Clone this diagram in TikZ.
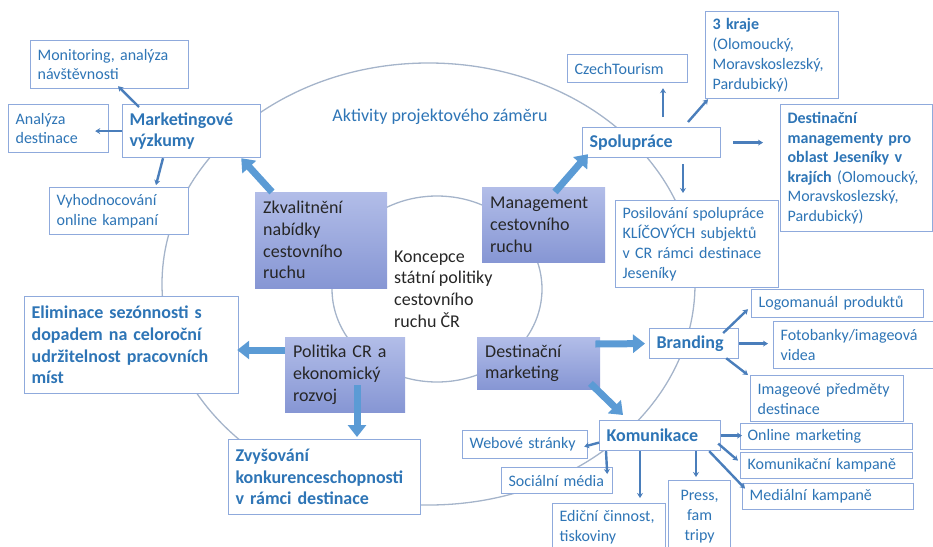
\documentclass[tikz,border=0pt]{standalone}
\usepackage{fontspec}
\setmainfont{Carlito}
\usetikzlibrary{arrows.meta}
\definecolor{txtblue}{RGB}{46,117,182}
\definecolor{boxline}{RGB}{143,170,220}
\definecolor{connline}{RGB}{74,126,187}
\definecolor{bigarrow}{RGB}{91,155,213}
\definecolor{ringline}{RGB}{165,180,202}
\definecolor{coretop}{RGB}{178,189,232}
\definecolor{corebot}{RGB}{134,150,212}
\definecolor{coretext}{RGB}{38,38,38}

\begin{document}
\begin{tikzpicture}[x=1pt,y=-1pt]
            \tikzstyle{wbox}=[draw=boxline, line width=1.2pt, fill=white, anchor=north west, inner xsep=7pt, inner ysep=0pt, align=left, text=txtblue, font=\fontsize{16}{19.8}\selectfont]
            \tikzstyle{hbox}=[wbox, font=\fontsize{18}{21.7}\selectfont\bfseries]
            \tikzstyle{core}=[anchor=north west, top color=coretop, bottom color=corebot, inner xsep=8pt, inner ysep=0pt, align=left, text=coretext, font=\fontsize{18}{21.7}\selectfont]
            \tikzstyle{conn}=[connline, line width=2.4pt, -{Stealth[length=5pt,width=6pt]}]
            \tikzstyle{bigconn}=[bigarrow, line width=7pt, -{Triangle[length=12pt,width=18pt]}]
            \tikzstyle{ring}=[ringline, line width=1.3pt]
            \useasboundingbox (0,0) rectangle (933,546);
            \clip (0,0) rectangle (933,546);
            \draw[ring] (428.5,284) ellipse [x radius=266.5pt, y radius=221pt];
            \draw[ring] (437,289) ellipse [x radius=105pt, y radius=93pt];
            \node[text=txtblue, font=\fontsize{18}{21.7}\selectfont] (akt) at (440,117) {Aktivity projektového záměru};
            \node[anchor=west, inner sep=0pt, align=left, text=coretext, font=\fontsize{18}{21.7}\selectfont] (konc) at (394,289) {Koncepce\\státní politiky\\cestovního\\ruchu ČR};
            \node[core, text width=116pt, minimum height=96pt] (zkv) at (255,192) {Zkvalitnění\\nabídky\\cestovního\\ruchu};
            \node[core, text width=107pt, minimum height=75pt] (mgmt) at (482,187) {Management\\cestovního\\ruchu};
            \node[core, text width=104pt, minimum height=75pt] (pol) at (285,337) {Politika CR a\\ekonomický\\rozvoj};
            \node[core, text width=107pt, minimum height=52pt] (dmk) at (477,337) {Destinační\\marketing};
            \node[wbox, text width=144pt, minimum height=48pt] (mon) at (30,40) {Monitoring, analýza\\návštěvnosti};
            \node[wbox, text width=86pt, minimum height=48pt] (anal) at (8,104) {Analýza\\destinace};
            \node[hbox, text width=124pt, minimum height=53pt] (mkt) at (122,104) {Marketingové\\výzkumy};
            \node[wbox, text width=125pt, minimum height=47pt] (vyh) at (49,187) {Vyhodnocování\\online kampaní};
            \node[wbox, text width=106pt, minimum height=28pt] (czt) at (567,54) {CzechTourism};
            \node[wbox, text width=119pt, minimum height=87pt] (kraje) at (705,11) {\textbf{3 kraje}\\(Olomoucký,\\Moravskoslezský,\\Pardubický)};
            \node[hbox, text width=124pt, minimum height=30pt] (spol) at (582,127) {Spolupráce};
            \node[wbox, text width=138pt, minimum height=127pt, font=\fontsize{16}{19.5}\selectfont] (dm) at (780,104) {\textbf{Destinační}\\\textbf{managementy pro}\\\textbf{oblast Jeseníky v}\\\textbf{krajích} (Olomoucký,\\Moravskoslezský,\\Pardubický)};
            \node[wbox, text width=149pt, minimum height=87pt] (pos) at (615,200) {Posilování spolupráce\\KLÍČOVÝCH subjektů\\v CR rámci destinace\\Jeseníky};
            \node[hbox, text width=200pt, minimum height=97pt] (elim) at (24,296) {Eliminace sezónnosti s\\dopadem na celoroční\\udržitelnost pracovních\\míst};
            \node[hbox, text width=178pt, minimum height=75pt] (zvys) at (228,439) {Zvyšování\\konkurenceschopnosti\\v rámci destinace};
            \node[hbox, text width=75pt, minimum height=30pt] (brand) at (649,328) {Branding};
            \node[wbox, text width=158pt, minimum height=28pt] (logo) at (751,289) {Logomanuál produktů};
            \node[wbox, text width=148pt, minimum height=47pt] (foto) at (773,321) {Fotobanky/imageová\\videa};
            \node[wbox, text width=139pt, minimum height=46pt] (img) at (750,375) {Imageové předměty\\destinace};
            \node[hbox, text width=107pt, minimum height=30pt] (kom) at (599,420) {Komunikace};
            \node[wbox, text width=111pt, minimum height=28pt] (web) at (462,430) {Webové stránky};
            \node[wbox, text width=97pt, minimum height=26pt] (soc) at (501,467) {Sociální média};
            \node[wbox, text width=99pt, minimum height=48pt] (edi) at (552,503) {Ediční činnost,\\tiskoviny};
            \node[wbox, text width=48pt, minimum height=72pt, align=center] (press) at (668,480) {Press,\\fam\\tripy};
            \node[wbox, text width=158pt, minimum height=26pt] (onl) at (740,423) {Online marketing};
            \node[wbox, text width=158pt, minimum height=26pt] (kkam) at (740,452) {Komunikační kampaně};
            \node[wbox, text width=157pt, minimum height=26pt] (mkam) at (742,483) {Mediální kampaně};
            \draw[conn] ([xshift=17pt,yshift=-3pt]mkt.north west) -- ([xshift=88pt,yshift=3pt]mon.south west);
            \draw[conn] (mkt.west) -- ([xshift=-14pt]mkt.west -| anal.east);
            \draw[conn] ([xshift=41pt]mkt.south west) -- ([xshift=107pt,yshift=2pt]vyh.north west);
            \draw[conn] ([xshift=81pt,yshift=10pt]spol.north west) -- ([xshift=96pt,yshift=-5pt]czt.south west);
            \draw[conn] ([xshift=106pt,yshift=5pt]spol.north west) -- ([xshift=3pt]kraje.south west);
            \draw[conn, shorten <=12pt, shorten >=17pt] (spol.east) -- (spol.east -| dm.west);
            \draw[conn] ([xshift=101pt,yshift=-6pt]spol.south west) -- ([xshift=68pt,yshift=7pt]pos.north west);
            \draw[conn] ([xshift=-16pt,yshift=-5pt]brand.north east) -- ([xshift=-3pt,yshift=9pt]logo.south west);
            \draw[conn, shorten >=5pt] (brand.east) -- (brand.east -| foto.west);
            \draw[conn] ([xshift=-13pt,yshift=1pt]brand.south east) -- ([xshift=-2pt]img.north west);
            \draw[conn] ([yshift=-7pt]kom.west) -- ([xshift=-4pt,yshift=-2pt]web.east);
            \draw[conn] ([xshift=7pt]kom.south west) -- ([xshift=-6pt,yshift=-7pt]soc.north east);
            \draw[conn] ([xshift=41pt]kom.south west) -- ([xshift=88pt,yshift=5pt]edi.north west);
            \draw[conn] ([xshift=97pt]kom.south west) -- ([xshift=28pt,yshift=3pt]press.north west);
            \draw[conn] (kom.east) -- ([xshift=2pt]kom.east -| onl.west);
            \draw[conn] ([xshift=-3pt,yshift=-8pt]kom.east) -- ([xshift=-2pt,yshift=5pt]kkam.west);
            \draw[conn] ([xshift=-12pt]kom.south east) -- ([xshift=3pt,yshift=8pt]mkam.west);
            \draw[bigconn] ([xshift=17pt]zkv.north west) -- ([xshift=-20pt]mkt.south east);
            \draw[bigconn] ([xshift=73pt,yshift=-5pt]mgmt.north west) -- ([xshift=6pt,yshift=4pt]spol.south west);
            \draw[bigconn] ([yshift=-13pt]pol.north west) -- ([xshift=-2pt,yshift=-54pt]elim.north east);
            \draw[bigconn] ([xshift=72pt,yshift=27pt]pol.south west) -- ([xshift=129pt,yshift=2pt]zvys.north west);
            \draw[bigconn] ([xshift=-5pt,yshift=-7pt]dmk.north east) -- ([xshift=-4pt]brand.west);
            \draw[bigconn] ([xshift=-10pt,yshift=6pt]dmk.south east) -- ([xshift=24pt,yshift=5pt]kom.north west);
\end{tikzpicture}
\end{document}
